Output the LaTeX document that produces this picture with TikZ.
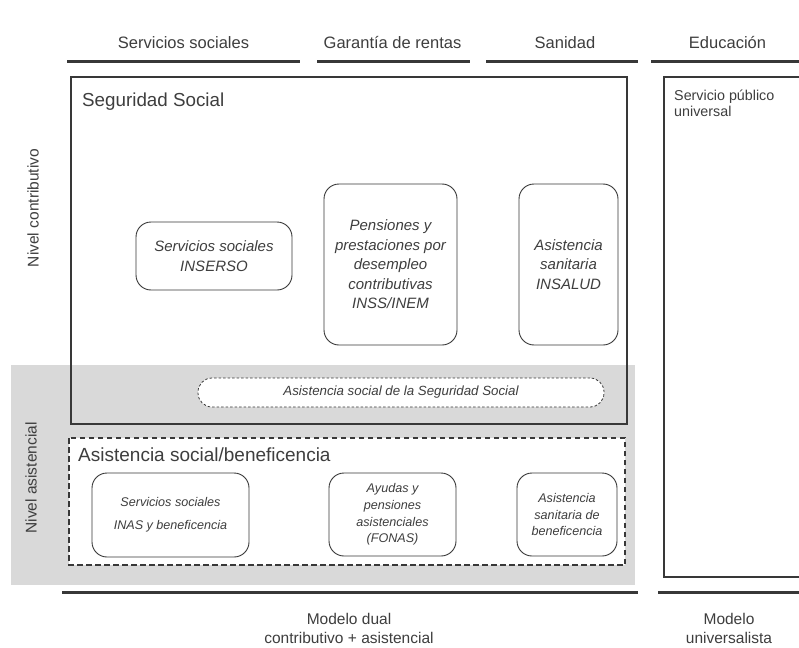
\documentclass[tikz,border=0pt]{standalone}
\usepackage{fontspec}
\setmainfont{Liberation Sans}
\definecolor{txtc}{HTML}{3E3E3E}
\definecolor{linec}{HTML}{383838}
\definecolor{bandc}{HTML}{D9D9D9}
\begin{document}
\begin{tikzpicture}[x=1pt,y=-1pt,
  txt/.style={text=txtc, inner sep=0pt},
  hdr/.style={txt, font=\fontsize{16.5}{19}\selectfont, anchor=base},
  rule/.style={draw=linec, line width=3pt},
  frame/.style={draw=linec, line width=1.3pt},
  rbox/.style={draw=linec, line width=0.9pt, rounded corners=15pt, fill=white,
    align=center, inner sep=0pt, text=txtc},
  big/.style={font=\fontsize{15}{19.5}\selectfont\itshape},
  small/.style={font=\fontsize{12.6}{16.8}\selectfont\itshape},
  vlab/.style={txt, rotate=90, font=\fontsize{15.5}{18}\selectfont},
  foot/.style={txt, align=center, font=\fontsize{15.5}{19}\selectfont}]
\useasboundingbox (0,0) rectangle (799,647);
\clip (0,0) rectangle (799,647);
\fill[white] (0,0) rectangle (799,647);

% header rules and labels
\draw[rule] (67,62) -- (300,62);
\draw[rule] (317,62) -- (470,62);
\draw[rule] (486,62) -- (638,62);
\draw[rule] (651,62) -- (810,62);
\node[hdr] (h1) at (183.5,49) {Servicios sociales};
\node[hdr] (h2) at (392.5,49) {Garantía de rentas};
\node[hdr] (h3) at (565,49) {Sanidad};
\node[hdr] (h4) at (727.5,49) {Educación};

% grey band (nivel asistencial)
\fill[bandc] (11,365) rectangle (635,585);

% Seguridad Social frame
\draw[frame] (71,77) rectangle (627,424);
\node[txt, anchor=base west, font=\fontsize{18.8}{22}\selectfont] (ss) at (82,107) {Seguridad Social};

% Educacion frame
\draw[frame] (664,77) rectangle (815,577);
\node[txt, anchor=north west, align=left, font=\fontsize{14.3}{16.5}\selectfont] (spu) at (674,89.5) {Servicio público\\universal};

% contributive boxes
\node[rbox, big, minimum width=156pt, minimum height=68pt] (inserso) at (214,256)
  {Servicios sociales\\INSERSO};
\node[rbox, big, minimum width=133pt, minimum height=161pt, text depth=0pt] (pens) at (390.5,264.5)
  {Pensiones y\\prestaciones por\\desempleo\\contributivas\\INSS/INEM};
\node[rbox, big, minimum width=99pt, minimum height=161pt] (insalud) at (568.5,264.5)
  {Asistencia\\sanitaria\\INSALUD};

% Asistencia social de la Seguridad Social
\node[draw=linec, line width=0.8pt, dash pattern=on 2.5pt off 2pt, rounded corners=14pt,
  fill=white, minimum width=406pt, minimum height=29pt, inner sep=0pt, text=txtc,
  font=\fontsize{13.3}{16}\selectfont\itshape] (asss) at (401,392.5)
  {Asistencia social de la Seguridad Social};

% Asistencia social / beneficencia
\draw[draw=linec, line width=1.2pt, dash pattern=on 5.5pt off 3.5pt, fill=white]
  (69,438) rectangle (625,565);
\node[txt, anchor=base west, font=\fontsize{19}{22}\selectfont] (asb) at (78,461)
  {Asistencia social/beneficencia};

\node[rbox, small, minimum width=157pt, minimum height=84pt,
  font=\fontsize{12.6}{23}\selectfont\itshape] (inas) at (170.5,515)
  {Servicios sociales\\INAS y beneficencia};
\node[rbox, small, minimum width=127pt, minimum height=83pt] (fonas) at (392.5,514.5)
  {Ayudas y\\pensiones\\asistenciales\\(FONAS)};
\node[rbox, small, minimum width=100pt, minimum height=83pt] (sanb) at (567,514.5)
  {Asistencia\\sanitaria de\\beneficencia};

% side labels
\node[vlab] (nc) at (33,208) {Nivel contributivo};
\node[vlab] (na) at (31,478) {Nivel asistencial};

% bottom rules and labels
\draw[rule] (62,592) -- (638,592);
\draw[rule] (658,592) -- (810,592);
\node[foot, anchor=base] (md) at (349,624) {Modelo dual};
\node[foot, anchor=base] (md2) at (349,643) {contributivo + asistencial};
\node[foot, anchor=base] (mu) at (729,624) {Modelo};
\node[foot, anchor=base] (mu2) at (729,643) {universalista};
\end{tikzpicture}
\end{document}
